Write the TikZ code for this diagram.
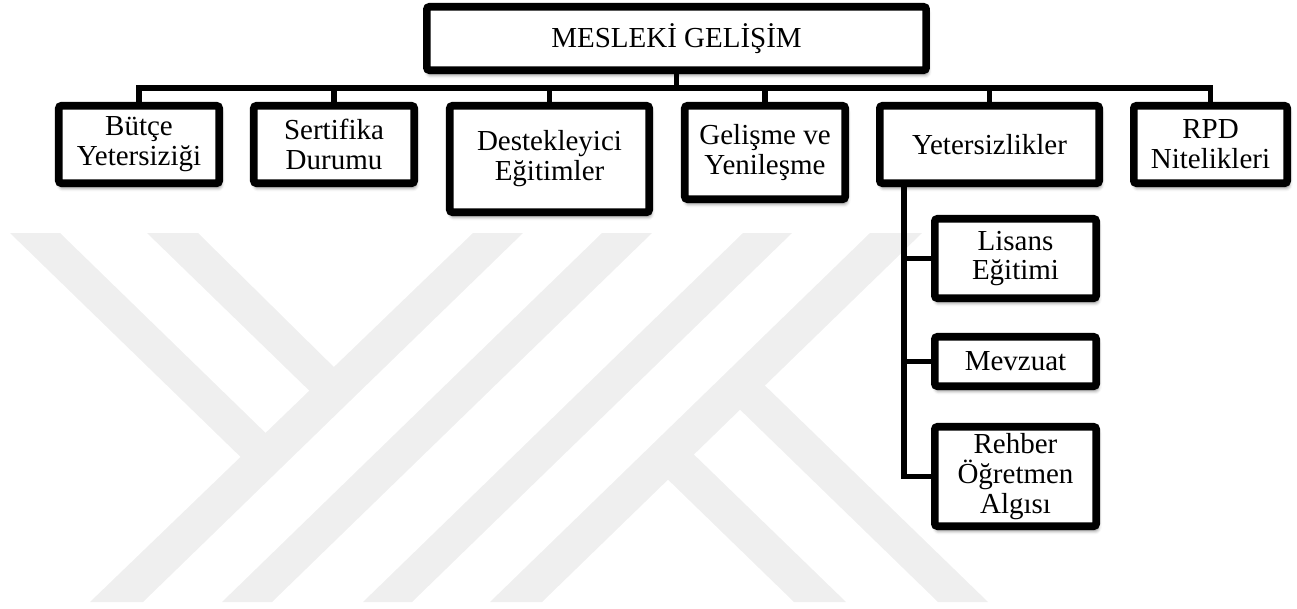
\documentclass[tikz,border=0pt]{standalone}
\usepackage{fontspec}
\setmainfont{Liberation Serif}
\usetikzlibrary{shadows.blur}
\definecolor{wmgray}{RGB}{239,239,239}

\begin{document}
\begin{tikzpicture}[x=0.02cm, y=-0.02cm,
  box/.style = {draw, line width=4.3pt, rounded corners=1.5pt, fill=white, align=center, inner sep=0pt,
    font=\fontsize{16.5}{17}\selectfont,
    blur shadow={shadow xshift=0.8pt, shadow yshift=-2.4pt, shadow blur radius=2.2pt, shadow opacity=55}},
  conn/.style = {draw, line width=2.9pt},
  band/.style = {fill=wmgray}]
    \useasboundingbox (0,0) rectangle (1297,608);

    % watermark
    \fill[band] (90,602) -- (143,602) -- (523,233) -- (473,233) -- cycle;
    \fill[band] (222,602) -- (272,602) -- (652,233) -- (602,233) -- cycle;
    \fill[band] (363,602) -- (412,602) -- (792,233) -- (743,233) -- cycle;
    \fill[band] (490,602) -- (542,602) -- (922,233) -- (870,233) -- cycle;
    \fill[band] (10,233) -- (60,233) -- (278,445) -- (253,469) -- cycle;
    \fill[band] (147,233) -- (198,233) -- (345,378) -- (322,403) -- cycle;
    \fill[band] (752,373) -- (988,602) -- (938,602) -- (727,397) -- cycle;
    \fill[band] (681,442) -- (846,602) -- (794,602) -- (655,467) -- cycle;

    % boxes
    \node[box, minimum width=9.99cm, minimum height=1.27cm] (top) at (676.5,38.5) {MESLEKİ GELİŞİM};
    \node[box, minimum width=3.21cm, minimum height=1.55cm] (butce) at (139,144.5) {Bütçe\\Yetersiziği};
    \node[box, minimum width=3.21cm, minimum height=1.55cm] (sertifika) at (334,144.5) {Sertifika\\Durumu};
    \node[box, minimum width=3.99cm, minimum height=2.13cm] (destek) at (549.5,159) {Destekleyici\\Eğitimler};
    \node[box, minimum width=3.21cm, minimum height=1.87cm] (gelisme) at (765,152.5) {Gelişme ve\\Yenileşme};
    \node[box, minimum width=4.39cm, minimum height=1.55cm] (yeter) at (989.5,144.5) {Yetersizlikler};
    \node[box, minimum width=3.07cm, minimum height=1.55cm] (rpd) at (1210.5,144.5) {RPD\\Nitelikleri};
    \node[box, minimum width=3.23cm, minimum height=1.59cm] (lisans) at (1015.5,258.5) {Lisans\\Eğitimi};
    \node[box, minimum width=3.23cm, minimum height=0.99cm] (mevzuat) at (1015.5,361.5) {Mevzuat};
    \node[box, minimum width=3.23cm, minimum height=1.99cm] (rehber) at (1015.5,476.5) {Rehber\\Öğretmen\\Algısı};

    % connectors
    \coordinate (bus) at (676.5,88);
    \coordinate (trunk) at (904,184);
    \draw[conn] (top.south) -- (bus);
    \draw[conn] (butce.north) |- (bus);
    \draw[conn] (sertifika.north) |- (bus);
    \draw[conn] (destek.north) |- (bus);
    \draw[conn] (gelisme.north) |- (bus);
    \draw[conn] (yeter.north) |- (bus);
    \draw[conn] (rpd.north) |- (bus);

    \draw[conn] (trunk) |- (lisans.west);
    \draw[conn] (trunk) |- (mevzuat.west);
    \draw[conn] (trunk) |- (rehber.west);

\end{tikzpicture}
\end{document}
